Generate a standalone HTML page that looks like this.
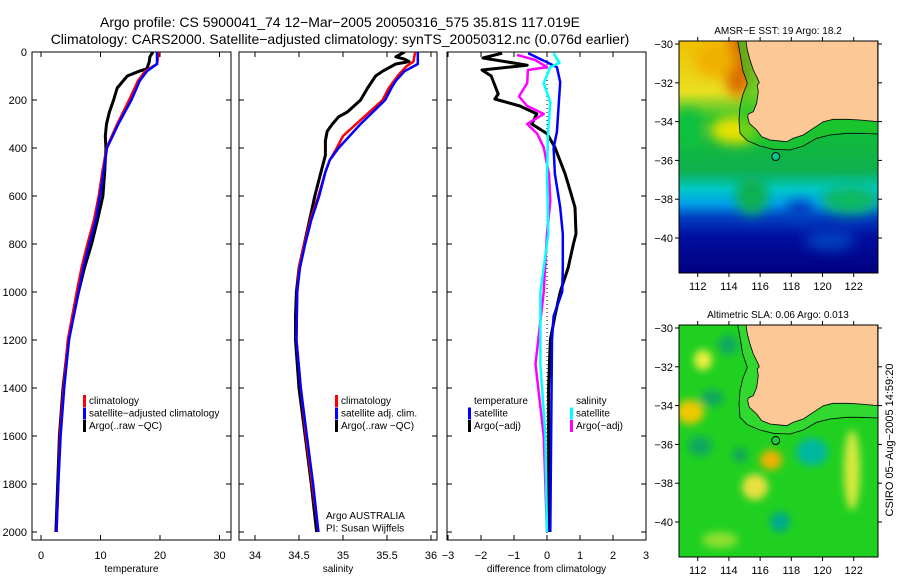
<!DOCTYPE html>
<html><head><meta charset="utf-8"><style>
html,body{margin:0;padding:0;background:#fff;}
svg{display:block;font-family:"Liberation Sans",sans-serif;}
</style></head><body>
<svg id="fig" width="900" height="580" viewBox="0 0 900 580" xmlns="http://www.w3.org/2000/svg">
<defs>
<filter id="blur6" x="-50%" y="-50%" width="200%" height="200%"><feGaussianBlur stdDeviation="6"/></filter>
<filter id="blur4" x="-50%" y="-50%" width="200%" height="200%"><feGaussianBlur stdDeviation="4"/></filter>
<linearGradient id="sstg" x1="0" y1="0" x2="0" y2="1">
<stop offset="0" stop-color="#f0c000"/><stop offset="0.22" stop-color="#e8e020"/>
<stop offset="0.34" stop-color="#10c030"/><stop offset="0.56" stop-color="#10b050"/>
<stop offset="0.64" stop-color="#00c8c8"/><stop offset="0.70" stop-color="#00a0e8"/>
<stop offset="0.76" stop-color="#0040c0"/><stop offset="0.84" stop-color="#0010a0"/>
<stop offset="1" stop-color="#000080"/></linearGradient>
<clipPath id="m1c"><rect x="679" y="41" width="199" height="232"/></clipPath>
<clipPath id="m2c"><rect x="679" y="325" width="199" height="232"/></clipPath>
<clipPath id="p1c"><rect x="32" y="52" width="199" height="488"/></clipPath>
<clipPath id="p2c"><rect x="239" y="52" width="198" height="488"/></clipPath>
<clipPath id="p3c"><rect x="447" y="52" width="199" height="488"/></clipPath>
</defs>
<text x="340" y="27" font-size="14" text-anchor="middle">Argo profile: CS 5900041_74 12−Mar−2005 20050316_575 35.81S 117.019E</text>
<text x="340" y="44" font-size="14" text-anchor="middle">Climatology: CARS2000. Satellite−adjusted climatology: synTS_20050312.nc (0.076d earlier)</text>

<g id="maps">
<g clip-path="url(#m1c)">
<rect x="679" y="41" width="199" height="232" fill="url(#sstg)"/>
<g filter="url(#blur6)">
<ellipse cx="738" cy="65" rx="14" ry="32" fill="#d86a00"/>
<ellipse cx="715" cy="60" rx="20" ry="18" fill="#f0b000"/>
<ellipse cx="688" cy="130" rx="14" ry="22" fill="#10c040"/>
<ellipse cx="735" cy="130" rx="25" ry="14" fill="#e8e000"/>
<ellipse cx="752" cy="195" rx="16" ry="20" fill="#10b050"/>
<ellipse cx="850" cy="200" rx="28" ry="14" fill="#10b860"/>
<ellipse cx="800" cy="210" rx="14" ry="10" fill="#0040c0"/>
<ellipse cx="830" cy="240" rx="25" ry="10" fill="#0040c0"/>
</g>
</g>
<g clip-path="url(#m2c)">
<rect x="679" y="325" width="199" height="232" fill="#20d020"/>
<g filter="url(#blur4)">
<ellipse cx="690" cy="412" rx="14" ry="12" fill="#f0c800"/>
<ellipse cx="703" cy="360" rx="9" ry="10" fill="#f0f040"/>
<ellipse cx="728" cy="345" rx="10" ry="10" fill="#10a860"/>
<ellipse cx="712" cy="398" rx="12" ry="8" fill="#10a860"/>
<ellipse cx="700" cy="446" rx="12" ry="10" fill="#10a860"/>
<ellipse cx="771" cy="460" rx="11" ry="10" fill="#f0b000"/>
<ellipse cx="755" cy="487" rx="13" ry="13" fill="#e8e040"/>
<ellipse cx="812" cy="452" rx="16" ry="14" fill="#00b8a0"/>
<ellipse cx="852" cy="470" rx="8" ry="40" fill="#d8e840"/>
<ellipse cx="780" cy="522" rx="10" ry="10" fill="#00a890"/>
<ellipse cx="740" cy="455" rx="7" ry="7" fill="#10a060"/>
<ellipse cx="720" cy="540" rx="18" ry="8" fill="#90e030"/>
</g>
</g>
<g id="land1"></g>
<g id="land2"></g>
</g>

<g id="plots"></g>
<text transform="translate(893,440) rotate(-90)" font-size="11" text-anchor="middle">CSIRO 05−Aug−2005 14:59:20</text>
</svg>
<script>
// ---- profile data (depth in m) ----
const tClimDepth = [0,50,80,120,200,300,400,500,600,700,800,900,1000,1200,1400,1600,1800,2000];
const tClimVal   = [19.8,19.5,17.5,16.3,14.8,12.8,11.0,10.3,9.7,8.9,7.8,6.8,6.0,4.5,3.8,3.2,2.9,2.6];
const tSatDepth  = [0,50,80,120,200,300,400,500,600,700,800,900,1000,1200,1400,1600,1800,2000];
const tSatVal    = [19.5,19.5,17.8,16.6,15.2,13.0,11.1,10.5,9.9,9.2,8.1,7.1,6.3,4.7,3.9,3.3,2.9,2.6];
const tArgoDepth = [0,20,40,70,80,100,150,200,250,300,350,400,500,600,700,800,900,1000,1200,1400,1600,1800,2000];
const tArgoVal   = [18.8,18.3,18.2,17.8,16.5,14.5,12.8,12.2,11.5,11.0,10.8,10.9,10.7,10.4,9.5,8.5,7.3,6.3,4.6,3.7,3.1,2.8,2.5];

const sClimDepth = [0,40,60,100,150,200,250,300,350,400,450,500,600,700,800,900,1000,1200,1400,1600,1800,2000];
const sClimVal   = [35.82,35.8,35.72,35.62,35.52,35.45,35.3,35.15,35.0,34.93,34.85,34.8,34.72,34.63,34.56,34.5,34.48,34.47,34.52,34.58,34.65,34.72];
const sSatDepth  = [0,50,80,120,150,200,300,400,450,500,600,700,800,900,1000,1200,1400,1600,1800,2000];
const sSatVal    = [35.85,35.85,35.7,35.6,35.55,35.48,35.2,34.95,34.85,34.8,34.73,34.64,34.57,34.51,34.48,34.47,34.52,34.59,34.66,34.72];
const sArgoDepth = [0,10,20,30,40,50,70,80,100,150,200,250,270,300,330,370,400,430,500,600,700,800,900,1000,1100,1200,1400,1600,1800,2000];
const sArgoVal   = [35.7,35.65,35.6,35.7,35.75,35.6,35.5,35.45,35.37,35.28,35.2,35.05,34.95,34.88,34.82,34.8,34.8,34.8,34.75,34.68,34.62,34.56,34.5,34.47,34.46,34.46,34.5,34.57,34.64,34.7];

const dTArgoDepth = [5,25,55,75,100,175,196,225,258,300,340,397,508,577,647,758,800,900,1000,1100,1200,1400,2000];
const dTArgoVal   = [-1.36,-1.94,-0.6,-1.97,-1.69,-1.48,-1.58,-0.82,-0.31,-0.46,0,0.24,0.55,0.7,0.85,0.88,0.8,0.64,0.4,0.24,0.1,0.05,0.05];
const dTSatDepth  = [5,45,63,125,333,400,508,647,758,900,1000,1100,1200,2000];
const dTSatVal    = [-0.57,0.03,0.3,0.4,0.3,0.2,0.24,0.4,0.48,0.48,0.46,0.2,0.15,0.1];
const dSArgoDepth = [12,33,63,75,130,185,225,258,300,340,397,508,620,758,1000,1300,1600,2000];
const dSArgoVal   = [-0.91,-0.36,0,-0.58,-0.6,-0.85,-0.6,-0.1,-0.6,-0.3,-0.1,0.06,0.1,0,-0.1,-0.35,-0.1,0];
const dSSatDepth  = [5,45,63,130,210,340,508,758,1000,1300,1600,2000];
const dSSatVal    = [0.2,0.38,0.1,-0.1,0.1,0.03,0,0.04,-0.2,-0.2,-0.05,0];

const depthTicks = [0,200,400,600,800,1000,1200,1400,1600,1800,2000];
const tTicks = [0,10,20,30];
const sTicks = [34,34.5,35,35.5,36];
const sTickLabels = ["34","34.5","35","35.5","36"];
const dTicks = [-3,-2,-1,0,1,2,3];
const dTickLabels = ["−3","−2","−1","0","1","2","3"];

const NS="http://www.w3.org/2000/svg";
const plots=document.getElementById('plots');
function mk(tag,attrs,parent){const e=document.createElementNS(NS,tag);for(const k in attrs)e.setAttribute(k,attrs[k]);(parent||plots).appendChild(e);return e;}
const yD = d => 52 + d*0.24;

function panel(name,x0,x1,xs,ticks,labels,title,clip){
  const g=mk('g',{});
  
  
  const box=mk('rect',{x:x0,y:52,width:x1-x0,height:488,fill:'none',stroke:'#000','stroke-width':1},g);
  
  
  depthTicks.forEach(d=>{
    const y=yD(d);
    mk('line',{x1:x0,y1:y,x2:x0+5,y2:y,stroke:'#000'},g);
    mk('line',{x1:x1-5,y1:y,x2:x1,y2:y,stroke:'#000'},g);
  });
  ticks.forEach((v,i)=>{
    const x=xs(v);
    mk('line',{x1:x,y1:540,x2:x,y2:535,stroke:'#000'},g);
    mk('line',{x1:x,y1:52,x2:x,y2:57,stroke:'#000'},g);
    const t=mk('text',{x:x,y:559,'font-size':11,'text-anchor':'middle'},g);
    t.textContent=labels[i];
    
    
  });
  const tt=mk('text',{x:(x0+x1)/2,y:572,'font-size':10,'text-anchor':'middle'},g);
  tt.textContent=title;
  
  
  const lines=mk('g',{'clip-path':'url(#'+clip+')'},g);
  return lines;
}
function series(parent,name,xs,depths,vals,color,w){
  const d=depths.map((dd,i)=>(i?'L':'M')+xs(vals[i]).toFixed(1)+' '+yD(dd).toFixed(1)).join(' ');
  const p=mk('path',{d:d,fill:'none',stroke:color,'stroke-width':w,'stroke-linejoin':'round'},parent);
  
  
}
function legend(x,y,items){
  items.forEach((it,i)=>{
    const yy=y+i*12.5;
    if(it.c){const m=mk('rect',{x:x,y:yy-9,width:3,height:12,fill:it.c});
      
      }
    const t=mk('text',{x:x+6,y:yy,'font-size':10});
    t.textContent=it.t;
    
    
  });
}

// y-axis labels
depthTicks.forEach(d=>{
  const t=mk('text',{x:27,y:yD(d)+4,'font-size':11,'text-anchor':'end'});
  t.textContent=String(d);
  
  
});

const xT=v=>41+5.95*v, xS=v=>255+88*(v-34), xDf=v=>547+33*v;
const p1=panel('temperature-panel',32,231,xT,tTicks,tTicks.map(String),'temperature','p1c');
series(p1,'argo-temperature-line',xT,tArgoDepth,tArgoVal,'#000',3);
series(p1,'climatology-temperature-line',xT,tClimDepth,tClimVal,'#f00',2.5);
series(p1,'satellite-temperature-line',xT,tSatDepth,tSatVal,'#00f',2.5);
legend(83,404,[{c:'#f00',t:'climatology'},{c:'#00f',t:'satellite−adjusted climatology'},{c:'#000',t:'Argo(..raw −QC)'}]);

const p2=panel('salinity-panel',239,437,xS,sTicks,sTickLabels,'salinity','p2c');
series(p2,'argo-salinity-line',xS,sArgoDepth,sArgoVal,'#000',3);
series(p2,'climatology-salinity-line',xS,sClimDepth,sClimVal,'#f00',2.5);
series(p2,'satellite-salinity-line',xS,sSatDepth,sSatVal,'#00f',2.5);
legend(335,404,[{c:'#f00',t:'climatology'},{c:'#00f',t:'satellite adj. clim.'},{c:'#000',t:'Argo(..raw −QC)'}]);
legend(320,519,[{t:'Argo AUSTRALIA'},{t:'PI: Susan Wijffels'}]);

const p3=panel('difference-panel',447,646,xDf,dTicks,dTickLabels,'difference from climatology','p3c');
const zl=mk('line',{x1:xDf(0),y1:52,x2:xDf(0),y2:540,stroke:'#000','stroke-width':1,'stroke-dasharray':'1,3'},p3);


series(p3,'argo-temperature-diff-line',xDf,dTArgoDepth,dTArgoVal,'#000',3);
series(p3,'satellite-temperature-diff-line',xDf,dTSatDepth,dTSatVal,'#00f',2.5);
series(p3,'argo-salinity-diff-line',xDf,dSArgoDepth,dSArgoVal,'#f0f',2.5);
series(p3,'satellite-salinity-diff-line',xDf,dSSatDepth,dSSatVal,'#0ff',2.5);
legend(468,404,[{t:'temperature'},{c:'#00f',t:'satellite'},{c:'#000',t:'Argo(−adj)'}]);
legend(570,404,[{t:'salinity'},{c:'#0ff',t:'satellite'},{c:'#f0f',t:'Argo(−adj)'}]);

// ---- maps ----
const coastZ=[[258,63],[262,90],[270,120],[280,150],[290,170],[298,188],[292,195],[295,215],[290,250],[280,275],[265,282],[263,290],[268,310],[290,330],[305,350],[330,360],[350,362],[380,365],[400,355],[430,345],[460,325],[490,305],[520,298],[560,298],[600,300],[653,305],[653,63]];
const shelfZ=[[233,63],[240,100],[248,150],[262,190],[248,225],[240,260],[237,300],[240,340],[262,362],[300,378],[340,388],[390,390],[430,378],[470,355],[510,345],[560,340],[600,340],[653,342]];
function drawMap(gid,dy,top,title,latTop,clip){
  const g=document.getElementById(gid);
  const cz=p=>[(660+p[0]/3),(20+p[1]/3)+dy];
  const inner=mk('g',{'clip-path':'url(#'+clip+')'},g);
  const strip=shelfZ.map(cz).concat([[878,top+140],[878,top]]).map((p,i)=>(i?'L':'M')+p[0].toFixed(1)+' '+p[1].toFixed(1)).join(' ')+'Z';
  mk('path',{d:strip,fill:gid==='land1'?'#20c828':'#30d830',opacity:gid==='land1'?0.6:1},inner);
  const land=coastZ.map(cz).map((p,i)=>(i?'L':'M')+p[0].toFixed(1)+' '+p[1].toFixed(1)).join(' ')+'Z';
  mk('path',{d:land,fill:'#fcc896',stroke:'#000','stroke-width':0.8},inner);
  const sh=shelfZ.map(cz).map((p,i)=>(i?'L':'M')+p[0].toFixed(1)+' '+p[1].toFixed(1)).join(' ');
  mk('path',{d:sh,fill:'none',stroke:'#000','stroke-width':0.8},inner);
  const lonX=l=>679+(l-110.8)*15.6, latY=l=>latTop+(-30-l)*19.4;
  const c=mk('circle',{cx:lonX(117.0),cy:latY(-35.8),r:4,fill:gid==='land1'?'#00c890':'#20c840',stroke:'#000','stroke-width':1},g);
  
  
  mk('rect',{x:679,y:top,width:199,height:232,fill:'none',stroke:'#000'},g);
  [112,114,116,118,120,122].forEach(l=>{
    const x=lonX(l);
    mk('line',{x1:x,y1:top+232,x2:x,y2:top+236,stroke:'#000'},g);
    mk('line',{x1:x,y1:top,x2:x,y2:top-4,stroke:'#000'},g);
    const t=mk('text',{x:x,y:top+249,'font-size':11,'text-anchor':'middle'},g);
    t.textContent=String(l);
    
    
  });
  [-30,-32,-34,-36,-38,-40].forEach(l=>{
    const y=latY(l);
    mk('line',{x1:675,y1:y,x2:679,y2:y,stroke:'#000'},g);
    mk('line',{x1:878,y1:y,x2:882,y2:y,stroke:'#000'},g);
    const t=mk('text',{x:673,y:y+4,'font-size':11,'text-anchor':'end'},g);
    t.textContent='−'+String(-l);
    
    
  });
  const tt=mk('text',{x:778,y:top-7,'font-size':10,'text-anchor':'middle'},g);
  tt.textContent=title;
  
  
}
drawMap('land1',0,41,'AMSR−E SST: 19 Argo: 18.2',44,'m1c');
drawMap('land2',284,325,'Altimetric SLA: 0.06 Argo: 0.013',328,'m2c');
</script>
</body></html>
